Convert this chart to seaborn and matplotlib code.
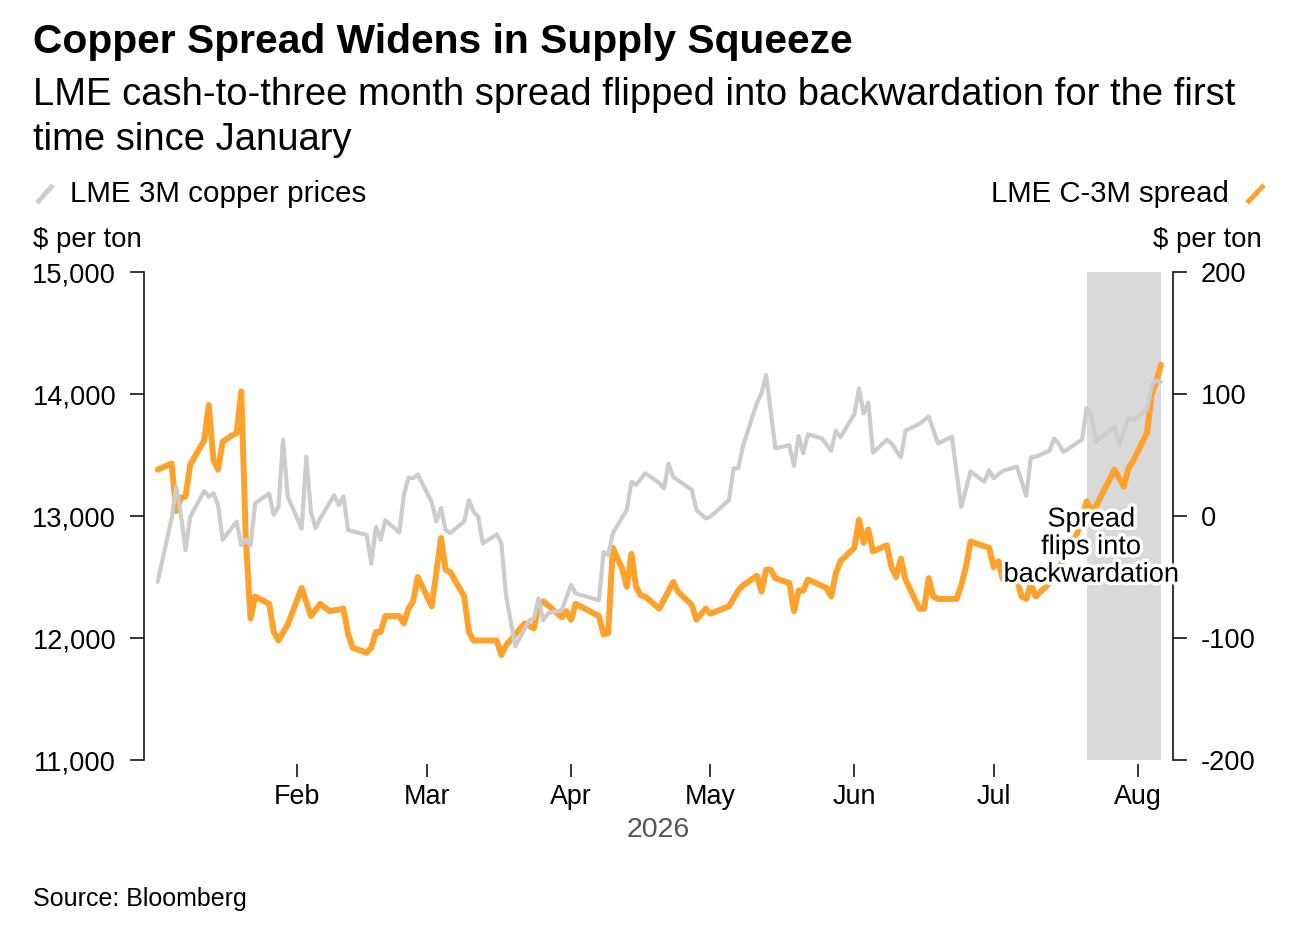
import pandas as pd
import matplotlib.pyplot as plt
import matplotlib.dates as mdates
import matplotlib.patheffects as pe
from matplotlib.lines import Line2D
from matplotlib.ticker import FuncFormatter
import seaborn as sns

# LME 3M copper price, $ per ton (left axis)
copper_dates = [
    "2026-01-02", "2026-01-05", "2026-01-06", "2026-01-07", "2026-01-08", "2026-01-09",
    "2026-01-12", "2026-01-13", "2026-01-14", "2026-01-15", "2026-01-16", "2026-01-19",
    "2026-01-20", "2026-01-21", "2026-01-22", "2026-01-23", "2026-01-26", "2026-01-27",
    "2026-01-28", "2026-01-29", "2026-01-30", "2026-02-02", "2026-02-03", "2026-02-04",
    "2026-02-05", "2026-02-06", "2026-02-09", "2026-02-10", "2026-02-11", "2026-02-12",
    "2026-02-13", "2026-02-16", "2026-02-17", "2026-02-18", "2026-02-19", "2026-02-20",
    "2026-02-23", "2026-02-24", "2026-02-25", "2026-02-26", "2026-02-27", "2026-03-02",
    "2026-03-03", "2026-03-04", "2026-03-05", "2026-03-06", "2026-03-09", "2026-03-10",
    "2026-03-11", "2026-03-12", "2026-03-13", "2026-03-16", "2026-03-17", "2026-03-18",
    "2026-03-20", "2026-03-23", "2026-03-24", "2026-03-25", "2026-03-26", "2026-03-27",
    "2026-03-30", "2026-04-01", "2026-04-02", "2026-04-07", "2026-04-08", "2026-04-09",
    "2026-04-10", "2026-04-13", "2026-04-14", "2026-04-15", "2026-04-17", "2026-04-20",
    "2026-04-21", "2026-04-22", "2026-04-23", "2026-04-27", "2026-04-28", "2026-04-30",
    "2026-05-01", "2026-05-05", "2026-05-06", "2026-05-07", "2026-05-08", "2026-05-11",
    "2026-05-12", "2026-05-13", "2026-05-15", "2026-05-18", "2026-05-19", "2026-05-20",
    "2026-05-21", "2026-05-22", "2026-05-25", "2026-05-27", "2026-05-28", "2026-05-29",
    "2026-06-01", "2026-06-02", "2026-06-03", "2026-06-04", "2026-06-05", "2026-06-08",
    "2026-06-09", "2026-06-11", "2026-06-12", "2026-06-15", "2026-06-17", "2026-06-19",
    "2026-06-22", "2026-06-24", "2026-06-25", "2026-06-26", "2026-06-29", "2026-06-30",
    "2026-07-01", "2026-07-03", "2026-07-06", "2026-07-08", "2026-07-09", "2026-07-10",
    "2026-07-13", "2026-07-14", "2026-07-15", "2026-07-16", "2026-07-20", "2026-07-21",
    "2026-07-22", "2026-07-23", "2026-07-27", "2026-07-28", "2026-07-30", "2026-07-31",
    "2026-08-03", "2026-08-04", "2026-08-05", "2026-08-06",
]
copper_prices = [
    12460, 12980, 13240, 13010, 12720, 12990,
    13205, 13160, 13185, 13090, 12805, 12955,
    12760, 12805, 12760, 13105, 13185, 13010,
    13075, 13625, 13160, 12895, 13485, 13035,
    12900, 12980, 13170, 13090, 13160, 12885,
    12875, 12845, 12610, 12910, 12805, 12965,
    12865, 13170, 13315, 13310, 13340, 13115,
    12955, 13065, 12885, 12860, 12955, 13130,
    13035, 12995, 12775, 12850, 12775, 12350,
    11930, 12145, 12160, 12325, 12145, 12200,
    12230, 12435, 12365, 12310, 12705, 12680,
    12860, 13050, 13280, 13255, 13350, 13270,
    13225, 13430, 13320, 13215, 13050, 12980,
    12995, 13130, 13390, 13390, 13570, 13925,
    14005, 14155, 13555, 13580, 13410, 13655,
    13515, 13670, 13635, 13535, 13700, 13645,
    13835, 14045, 13840, 13930, 13520, 13625,
    13595, 13480, 13700, 13755, 13815, 13595,
    13650, 13075, 13215, 13365, 13280, 13375,
    13310, 13370, 13405, 13165, 13480, 13485,
    13535, 13635, 13590, 13525, 13625, 13885,
    13830, 13610, 13730, 13580, 13800, 13785,
    13870, 14075, 14110, 14100,
]

# LME cash-to-three-month spread, $ per ton (right axis)
spread_dates = [
    "2026-01-02", "2026-01-05", "2026-01-06", "2026-01-07", "2026-01-08", "2026-01-09",
    "2026-01-12", "2026-01-13", "2026-01-14", "2026-01-15", "2026-01-16", "2026-01-18",
    "2026-01-19", "2026-01-20", "2026-01-21", "2026-01-22", "2026-01-23", "2026-01-24",
    "2026-01-26", "2026-01-27", "2026-01-28", "2026-01-30", "2026-02-02", "2026-02-04",
    "2026-02-06", "2026-02-08", "2026-02-11", "2026-02-12", "2026-02-13", "2026-02-16",
    "2026-02-17", "2026-02-18", "2026-02-19", "2026-02-20", "2026-02-23", "2026-02-24",
    "2026-02-25", "2026-02-26", "2026-02-27", "2026-03-02", "2026-03-04", "2026-03-05",
    "2026-03-06", "2026-03-09", "2026-03-10", "2026-03-11", "2026-03-16", "2026-03-17",
    "2026-03-18", "2026-03-20", "2026-03-22", "2026-03-24", "2026-03-25", "2026-03-26",
    "2026-03-27", "2026-03-30", "2026-03-31", "2026-04-01", "2026-04-02", "2026-04-04",
    "2026-04-07", "2026-04-08", "2026-04-09", "2026-04-10", "2026-04-12", "2026-04-13",
    "2026-04-14", "2026-04-15", "2026-04-16", "2026-04-17", "2026-04-20", "2026-04-23",
    "2026-04-24", "2026-04-27", "2026-04-28", "2026-04-30", "2026-05-01", "2026-05-05",
    "2026-05-07", "2026-05-08", "2026-05-11", "2026-05-12", "2026-05-13", "2026-05-14",
    "2026-05-15", "2026-05-18", "2026-05-19", "2026-05-20", "2026-05-21", "2026-05-22",
    "2026-05-26", "2026-05-27", "2026-05-28", "2026-05-29", "2026-06-01", "2026-06-02",
    "2026-06-03", "2026-06-04", "2026-06-05", "2026-06-08", "2026-06-09", "2026-06-10",
    "2026-06-11", "2026-06-12", "2026-06-15", "2026-06-16", "2026-06-17", "2026-06-18",
    "2026-06-19", "2026-06-23", "2026-06-24", "2026-06-25", "2026-06-26", "2026-06-30",
    "2026-07-01", "2026-07-02", "2026-07-03", "2026-07-06", "2026-07-07", "2026-07-08",
    "2026-07-09", "2026-07-10", "2026-07-13", "2026-07-16", "2026-07-19", "2026-07-21",
    "2026-07-22", "2026-07-23", "2026-07-27", "2026-07-29", "2026-07-30", "2026-07-31",
    "2026-08-03", "2026-08-04", "2026-08-05", "2026-08-06",
]
spread_values = [
    38, 43, 4, 15, 16, 42,
    62, 91, 46, 38, 61, 66,
    68, 102, -21, -84, -66, -68,
    -72, -95, -102, -89, -59, -82,
    -72, -78, -76, -97, -108, -112,
    -108, -95, -95, -82, -82, -88,
    -76, -70, -50, -74, -18, -44,
    -46, -66, -95, -102, -102, -114,
    -106, -97, -88, -92, -73, -70,
    -73, -83, -78, -85, -72, -76,
    -82, -97, -96, -26, -43, -58,
    -31, -58, -65, -66, -76, -54,
    -62, -73, -85, -76, -80, -74,
    -61, -57, -49, -62, -44, -44,
    -51, -55, -78, -61, -61, -52,
    -59, -66, -47, -37, -26, -3,
    -22, -11, -29, -24, -42, -50,
    -35, -52, -76, -76, -51, -66,
    -68, -68, -57, -42, -21, -26,
    -42, -37, -52, -52, -66, -68,
    -55, -66, -55, -36, -14, 12,
    5, 8, 38, 24, 39, 45,
    68, 100, 110, 124,
]

shade_span = ["2026-07-21", "2026-08-06"]
month_ticks = ["2026-02-01", "2026-03-01", "2026-04-01", "2026-05-01",
               "2026-06-01", "2026-07-01", "2026-08-01"]
left_ticks = [11000, 12000, 13000, 14000, 15000]
right_ticks = [-200, -100, 0, 100, 200]

copper_df = pd.DataFrame({"date": pd.to_datetime(copper_dates), "price": copper_prices})
spread_df = pd.DataFrame({"date": pd.to_datetime(spread_dates), "spread": spread_values})

sns.set_theme(style="white")
plt.rcParams["font.family"] = ["Liberation Sans", "DejaVu Sans"]
plt.rcParams["text.color"] = "black"
plt.rcParams["axes.labelcolor"] = "black"

GREY = "#cccccc"
ORANGE = "#ffa12b"

fig = plt.figure(figsize=(13.12, 9.52), dpi=100)
ax = fig.add_axes([144 / 1312, 1 - 760 / 952, 1029 / 1312, 488 / 952])
ax2 = ax.twinx()

ax2.axvspan(pd.Timestamp(shade_span[0]), pd.Timestamp(shade_span[1]),
            color="#d9d9d9", lw=0, zorder=0)
sns.lineplot(data=spread_df, x="date", y="spread", ax=ax2, color=ORANGE, lw=4.3, zorder=2)
sns.lineplot(data=copper_df, x="date", y="price", ax=ax, color=GREY, lw=3.0, zorder=3)

# grey line sits above orange
ax.set_zorder(ax2.get_zorder() + 1)
ax.patch.set_visible(False)

start = pd.Timestamp("2026-01-01")
ax.set_xlim(start - pd.Timedelta(days=1.94), start + pd.Timedelta(days=219.6))
ax.set_ylim(11000, 15000)
ax2.set_ylim(-200, 200)

ax.set_yticks(left_ticks)
ax2.set_yticks(right_ticks)
ax.yaxis.set_major_formatter(FuncFormatter(lambda v, p: f"{v:,.0f}"))
ax2.yaxis.set_major_formatter(FuncFormatter(lambda v, p: f"{v:.0f}"))

ax.set_xticks(pd.to_datetime(month_ticks))
ax.xaxis.set_major_formatter(mdates.DateFormatter("%b"))

for a in (ax, ax2):
    a.set_ylabel("")
    a.spines["top"].set_visible(False)
    a.spines["bottom"].set_visible(False)
    a.spines["bottom"].set_position(("outward", 3))
    a.grid(False)
ax.spines["right"].set_visible(False)
ax2.spines["left"].set_visible(False)
ax.spines["left"].set_linewidth(1.1)
ax2.spines["right"].set_linewidth(1.1)
ax.spines["left"].set_color("black")
ax2.spines["right"].set_color("black")

ax.tick_params(axis="y", left=True, direction="out", length=10, width=1.1, pad=10,
               labelsize=19.6, colors="black")
ax2.tick_params(axis="y", right=True, direction="out", length=10, width=1.1, pad=10,
                labelsize=19.6, colors="black")
ax.tick_params(axis="x", bottom=True, direction="out", length=9, width=1.1, pad=5,
               labelsize=19.4, colors="black")

ax.set_xlabel("2026", fontsize=20.5, color="#555555", labelpad=5)

ax.text(pd.Timestamp("2026-07-22"), 12745, "Spread\nflips into\nbackwardation",
        ha="center", va="center", multialignment="center", fontsize=19.6,
        linespacing=1.08, color="black", zorder=5,
        path_effects=[pe.withStroke(linewidth=5, foreground="white")])

# header
fig.text(33 / 1312, 1 - 53 / 952, "Copper Spread Widens in Supply Squeeze",
         fontsize=29.3, weight="bold", va="baseline")
fig.text(33 / 1312, 1 - 105 / 952,
         "LME cash-to-three month spread flipped into backwardation for the first",
         fontsize=27.45, va="baseline")
fig.text(33 / 1312, 1 - 150 / 952, "time since January", fontsize=27.45, va="baseline")

# legend
fig.add_artist(Line2D([37 / 1312, 53 / 1312], [1 - 203 / 952, 1 - 185 / 952],
                      color=GREY, lw=3.5, solid_capstyle="butt"))
fig.text(70 / 1312, 1 - 202 / 952, "LME 3M copper prices", fontsize=21.3, va="baseline")
fig.add_artist(Line2D([1247 / 1312, 1264 / 1312], [1 - 203 / 952, 1 - 185 / 952],
                      color=ORANGE, lw=3.5, solid_capstyle="butt"))
fig.text(1229 / 1312, 1 - 202 / 952, "LME C-3M spread", fontsize=21.2, va="baseline",
         ha="right")

fig.text(33 / 1312, 1 - 247 / 952, "$ per ton", fontsize=19.9, va="baseline")
fig.text(1262 / 1312, 1 - 247 / 952, "$ per ton", fontsize=19.9, va="baseline", ha="right")

fig.text(33 / 1312, 1 - 906 / 952, "Source: Bloomberg", fontsize=18, va="baseline")

fig.savefig("out.png", dpi=100, facecolor="white")
